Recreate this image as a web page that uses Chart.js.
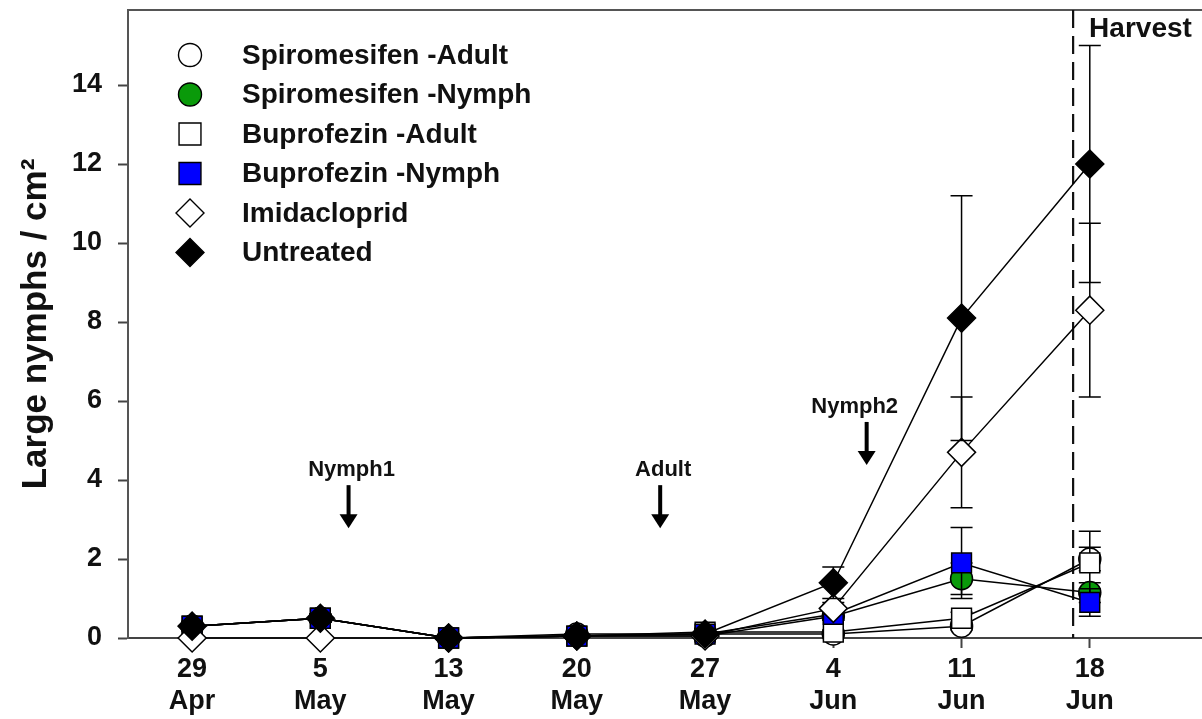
<!DOCTYPE html>
<html>
<head>
<meta charset="utf-8">
<script src="https://cdn.jsdelivr.net/npm/chart.js@4.4.1/dist/chart.umd.min.js"></script>
<style>
  html, body { margin: 0; padding: 0; background: #ffffff; overflow: hidden; }
  #wrap { width: 1202px; height: 719px; position: relative; }
</style>
</head>
<body>
<div id="wrap"><canvas id="c"></canvas></div>
<script>
// ---------- data ----------
const dateDays   = ['29', '5', '13', '20', '27', '4', '11', '18'];
const dateMonths = ['Apr', 'May', 'May', 'May', 'May', 'Jun', 'Jun', 'Jun'];
const yTicks = [0, 2, 4, 6, 8, 10, 12, 14];

const seriesNames = ['Spiromesifen -Adult', 'Spiromesifen -Nymph', 'Buprofezin -Adult',
                     'Buprofezin -Nymph', 'Imidacloprid', 'Untreated'];

const spiroAdult      = [0.3, 0.5, 0, 0.1, 0.1, 0.1, 0.3, 2.0];
const spiroAdultErr   = [0.05, 0.1, 0, 0.05, 0.05, 0.05, 0.1, 0.3];
const spiroNymph      = [0.3, 0.5, 0, 0.05, 0.05, 0.55, 1.5, 1.15];
const spiroNymphErr   = [0.05, 0.1, 0, 0.02, 0.05, 0.1, 0.4, 0.25];
const bupAdult        = [0.3, 0.5, 0, 0.05, 0.15, 0.15, 0.5, 1.9];
const bupAdultErr     = [0.05, 0.1, 0, 0.02, 0.1, 0.05, 0.15, 0.8];
const bupNymph        = [0.3, 0.5, 0, 0.05, 0.1, 0.6, 1.9, 0.9];
const bupNymphErr     = [0.05, 0.1, 0, 0.02, 0.05, 0.15, 0.9, 0.35];
const imidacloprid    = [0, 0, 0, 0.05, 0.05, 0.75, 4.7, 8.3];
const imidaclopridErr = [0, 0, 0, 0, 0, 0.15, 1.4, 2.2];
const untreated       = [0.3, 0.5, 0, 0.05, 0.1, 1.4, 8.1, 12.0];
const untreatedErr    = [0.05, 0.1, 0, 0.02, 0.05, 0.4, 3.1, 3.0];

// annotations (in data units)
const arrowLabels = ['Nymph1', 'Adult', 'Nymph2'];
const arrowX      = [1.22, 3.65, 5.26];
const arrowTop    = [3.87, 3.87, 5.47];
const arrowBottom = [2.78, 2.78, 4.38];
const harvestX = 6.87;
const harvestLabel = 'Harvest';

// ---------- styles ----------
const values = [spiroAdult, spiroNymph, bupAdult, bupNymph, imidacloprid, untreated];
const errors = [spiroAdultErr, spiroNymphErr, bupAdultErr, bupNymphErr, imidaclopridErr, untreatedErr];
const fills  = ['#ffffff', '#0a9a0a', '#ffffff', '#0000ff', '#ffffff', '#000000'];
const shapes = ['circle', 'circle', 'rect', 'rect', 'rectRot', 'rectRot'];
const radii  = [11, 11, 14, 14, 14, 14];

const datasets = seriesNames.map((name, k) => ({
  label: name,
  data: values[k].map((v, i) => ({ x: i, y: v })),
  errors: errors[k],
  borderColor: '#000000',
  borderWidth: 1.5,
  pointStyle: shapes[k],
  pointRadius: radii[k],
  pointHoverRadius: radii[k],
  pointBackgroundColor: fills[k],
  pointBorderColor: '#000000',
  pointBorderWidth: 1.5,
  showLine: true,
  fill: false,
  tension: 0,
  clip: false,
  order: seriesNames.length - k
}));

function drawShape(ctx, shape, x, y, r, fill) {
  ctx.save();
  ctx.beginPath();
  if (shape === 'circle') {
    ctx.arc(x, y, r, 0, Math.PI * 2);
  } else if (shape === 'rect') {
    const s = r * Math.SQRT1_2;
    ctx.rect(x - s, y - s, 2 * s, 2 * s);
  } else {
    ctx.moveTo(x, y - r); ctx.lineTo(x + r, y); ctx.lineTo(x, y + r); ctx.lineTo(x - r, y); ctx.closePath();
  }
  ctx.fillStyle = fill;
  ctx.fill();
  ctx.lineWidth = 1.4;
  ctx.strokeStyle = '#000';
  ctx.stroke();
  ctx.restore();
}

const errorBarPlugin = {
  id: 'errorBars',
  beforeDatasetDraw(chart, args) {
    const ds = chart.data.datasets[args.index];
    const xs = chart.scales.x, ys = chart.scales.y;
    const ctx = chart.ctx;
    ctx.save();
    ctx.strokeStyle = '#000';
    ctx.lineWidth = 1.5;
    ds.data.forEach((p, i) => {
      const e = ds.errors[i];
      if (!e) return;
      const px = xs.getPixelForValue(p.x);
      const yt = ys.getPixelForValue(p.y + e);
      const yb = ys.getPixelForValue(Math.max(0, p.y - e));
      ctx.beginPath();
      ctx.moveTo(px, yt); ctx.lineTo(px, yb);
      ctx.moveTo(px - 11, yt); ctx.lineTo(px + 11, yt);
      ctx.moveTo(px - 11, yb); ctx.lineTo(px + 11, yb);
      ctx.stroke();
    });
    ctx.restore();
  }
};

const decorPlugin = {
  id: 'decor',
  beforeDatasetsDraw(chart) {
    const { ctx, chartArea: a } = chart;
    const xs = chart.scales.x, ys = chart.scales.y;
    ctx.save();
    // top frame line
    ctx.strokeStyle = '#555';
    ctx.lineWidth = 2;
    ctx.beginPath();
    ctx.moveTo(a.left - 1, a.top); ctx.lineTo(a.right + 5, a.top);
    ctx.stroke();
    // harvest dashed line
    const hx = xs.getPixelForValue(harvestX);
    ctx.strokeStyle = '#111';
    ctx.lineWidth = 2.2;
    ctx.setLineDash([18, 8]);
    ctx.beginPath();
    ctx.moveTo(hx, a.top); ctx.lineTo(hx, a.bottom);
    ctx.stroke();
    ctx.setLineDash([]);
    ctx.fillStyle = '#111';
    ctx.font = 'bold 28px "Liberation Sans", Arial, sans-serif';
    ctx.textAlign = 'left';
    ctx.textBaseline = 'middle';
    ctx.fillText(harvestLabel, hx + 16, a.top + 19);
    // arrows
    ctx.font = 'bold 22px "Liberation Sans", Arial, sans-serif';
    ctx.textAlign = 'center';
    ctx.textBaseline = 'bottom';
    arrowLabels.forEach((lab, i) => {
      const x = xs.getPixelForValue(arrowX[i]);
      const y1 = ys.getPixelForValue(arrowTop[i]);
      const y2 = ys.getPixelForValue(arrowBottom[i]);
      ctx.fillText(lab, x + (i === 2 ? -12 : 3), y1 - 4);
      ctx.lineWidth = 4;
      ctx.strokeStyle = '#000';
      ctx.beginPath();
      ctx.moveTo(x, y1); ctx.lineTo(x, y2 - 12);
      ctx.stroke();
      ctx.beginPath();
      ctx.moveTo(x - 9, y2 - 14); ctx.lineTo(x + 9, y2 - 14); ctx.lineTo(x, y2); ctx.closePath();
      ctx.fillStyle = '#000';
      ctx.fill();
      ctx.fillStyle = '#111';
    });
    ctx.restore();
  },
  afterDraw(chart) {
    const { ctx, chartArea: a } = chart;
    ctx.save();
    ctx.font = 'bold 28px "Liberation Sans", Arial, sans-serif';
    ctx.textAlign = 'left';
    ctx.textBaseline = 'middle';
    seriesNames.forEach((name, k) => {
      const y = a.top + 45 + k * 39.5;
      const r = shapes[k] === 'circle' ? 11.5 : (shapes[k] === 'rect' ? 15.5 : 14);
      drawShape(ctx, shapes[k], a.left + 62, y, r, fills[k]);
      ctx.fillStyle = '#111';
      ctx.fillText(name, a.left + 114, y + 1);
    });
    ctx.restore();
  }
};

new Chart(document.getElementById('c'), {
  type: 'line',
  data: { datasets },
  plugins: [errorBarPlugin, decorPlugin],
  options: {
    responsive: true,
    maintainAspectRatio: false,
    animation: false,
    events: [],
    layout: { autoPadding: false, padding: { top: 10, right: 0, left: 0, bottom: 0 } },
    plugins: { legend: { display: false }, tooltip: { enabled: false } },
    scales: {
      x: {
        type: 'linear',
        position: 'bottom',
        min: -0.5,
        max: 7.875,
        afterBuildTicks(scale) { scale.ticks = dateDays.map((d, i) => ({ value: i })); },
        afterFit(scale) { scale.height = 81; scale.paddingLeft = 0; scale.paddingRight = 0; },
        ticks: {
          autoSkip: false,
          maxRotation: 0,
          padding: 5,
          color: '#111',
          font: { family: '"Liberation Sans", Arial, sans-serif', size: 27, weight: 'bold', lineHeight: 1.2 },
          callback: (v) => [dateDays[v], dateMonths[v]]
        },
        grid: { drawOnChartArea: false, drawTicks: true, tickLength: 10, tickColor: '#444', tickWidth: 2 },
        border: { display: true, color: '#444', width: 2 }
      },
      y: {
        type: 'linear',
        min: 0,
        max: 15.9,
        afterBuildTicks(scale) { scale.ticks = yTicks.map(v => ({ value: v })); },
        afterFit(scale) { scale.width = 128; scale.paddingTop = 0; scale.paddingBottom = 0; },
        ticks: {
          padding: 16,
          color: '#111',
          font: { family: '"Liberation Sans", Arial, sans-serif', size: 27, weight: 'bold' }
        },
        grid: { drawOnChartArea: false, drawTicks: true, tickLength: 10, tickColor: '#444', tickWidth: 2 },
        border: { display: true, color: '#555', width: 2 },
        title: {
          display: true,
          text: 'Large nymphs / cm²',
          color: '#111',
          padding: { top: 15, bottom: 0 },
          font: { family: '"Liberation Sans", Arial, sans-serif', size: 35, weight: 'bold' }
        }
      }
    }
  }
});
</script>
</body>
</html>
